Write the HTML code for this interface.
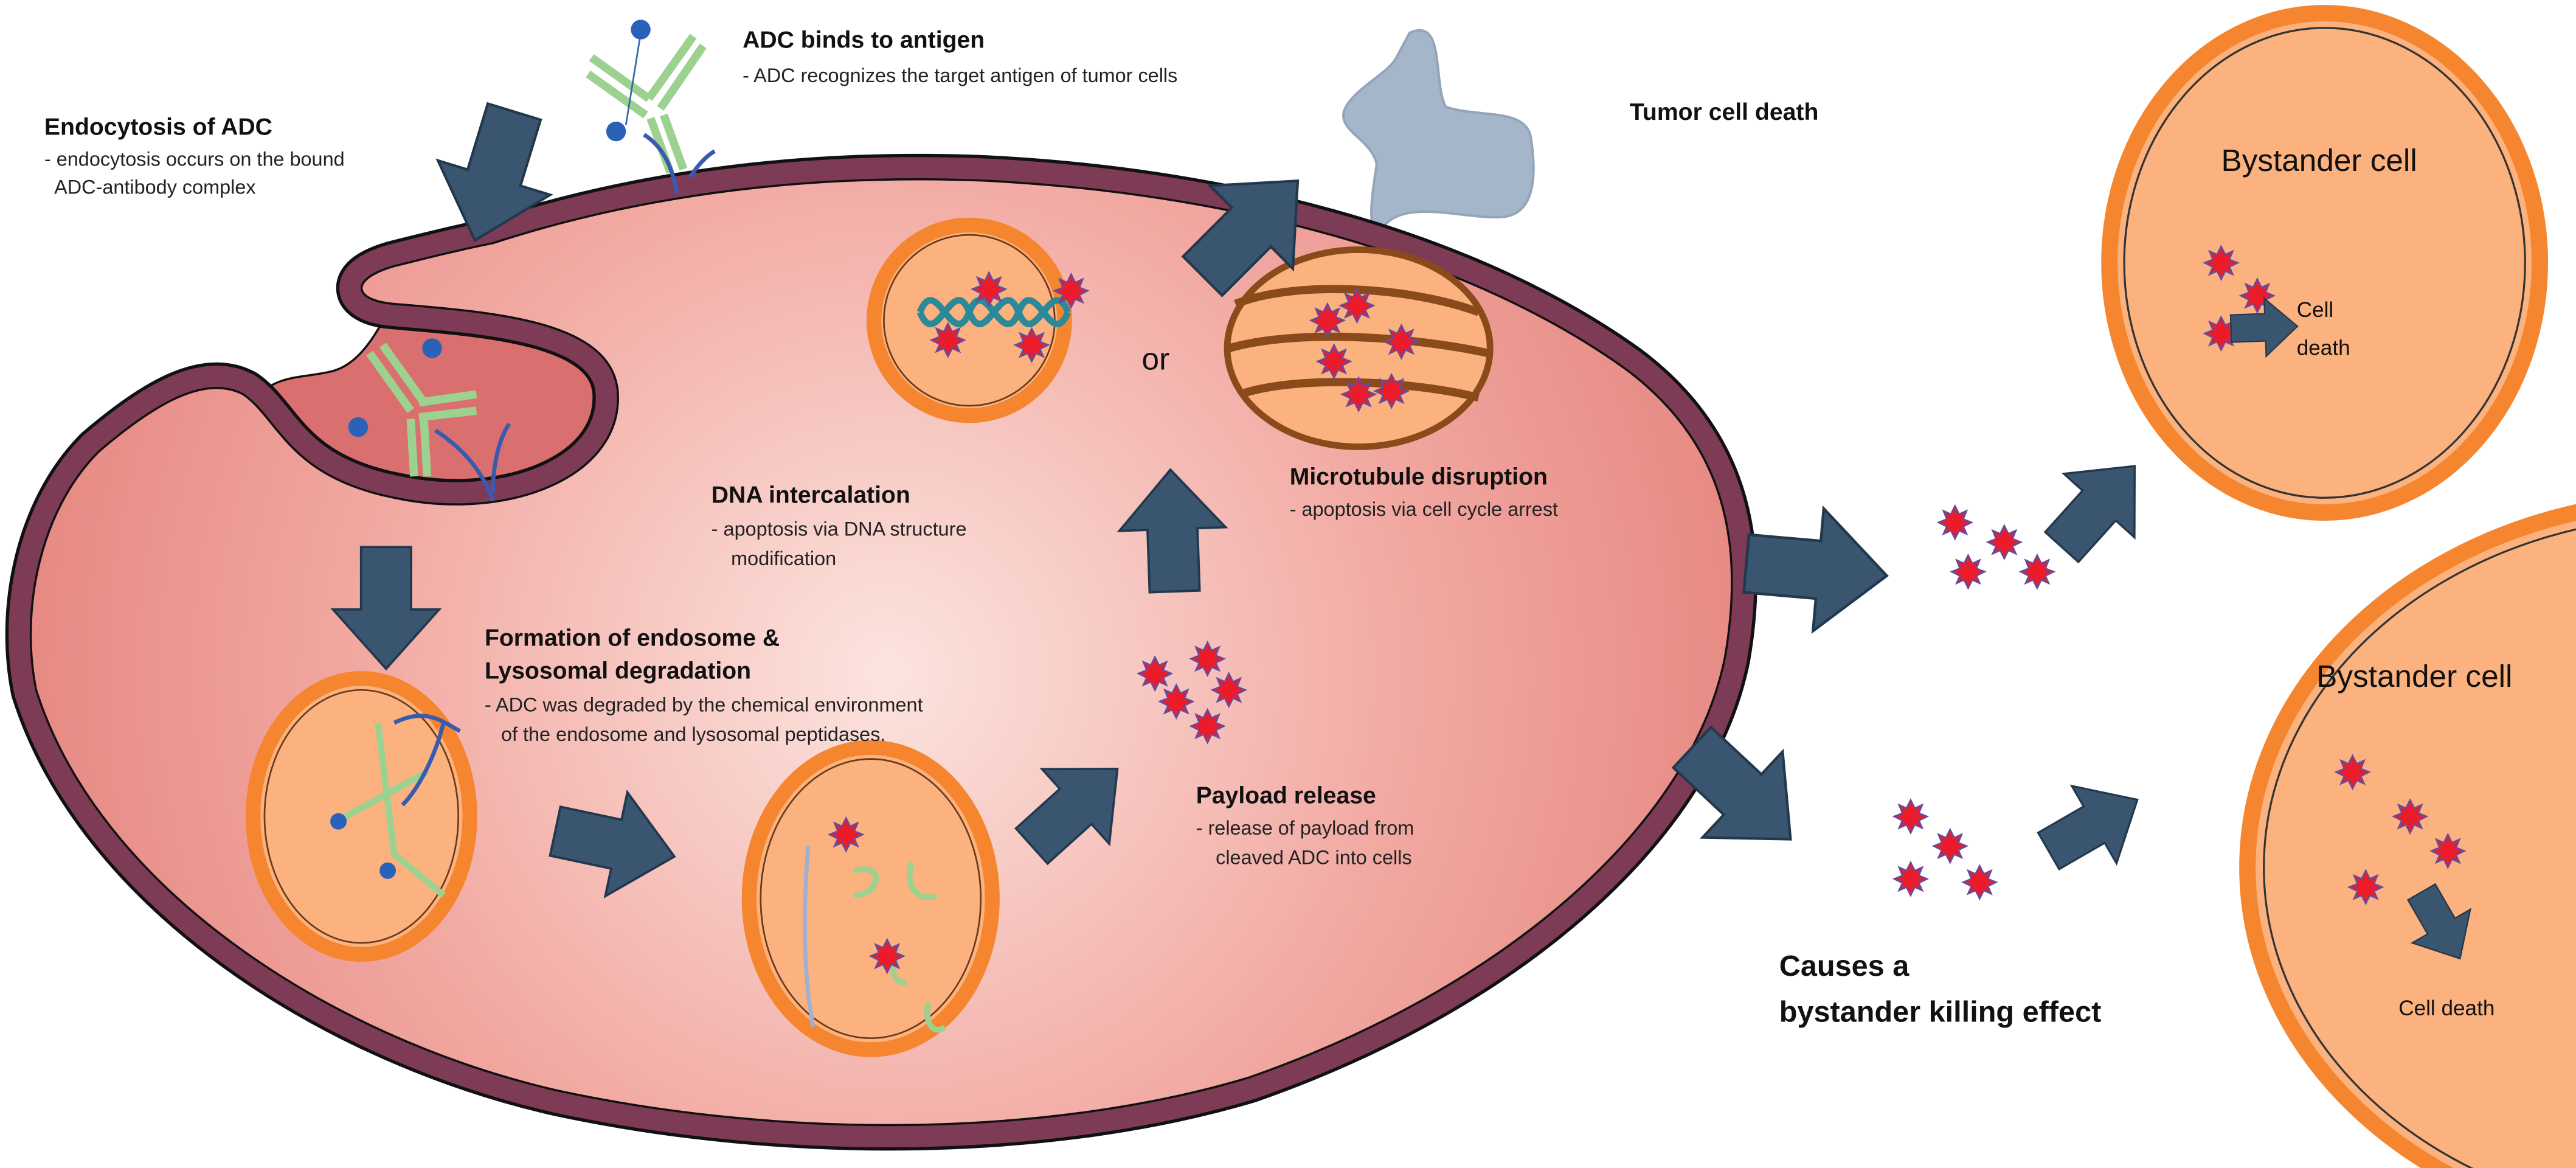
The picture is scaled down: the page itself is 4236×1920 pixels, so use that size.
<!DOCTYPE html>
<html><head><meta charset="utf-8"><style>
html,body{margin:0;padding:0;background:#fff;overflow:hidden;}
svg{display:block;}
text{font-family:"Liberation Sans Narrow","Liberation Sans",sans-serif;fill:#111;}
.b{font-weight:bold;font-size:14.5px;}
.s{font-size:12px;fill:#222;}
</style></head><body>
<svg width="4236" height="1920" viewBox="0 0 1568 711" preserveAspectRatio="none" xmlns="http://www.w3.org/2000/svg">
<defs>
<radialGradient id="cg" cx="540" cy="410" r="520" gradientUnits="userSpaceOnUse">
<stop offset="0" stop-color="#fce4df"/><stop offset="0.6" stop-color="#f2aaa3"/><stop offset="1" stop-color="#e78a84"/>
</radialGradient>
<path id="cell" d="M300,148 C380,122 480,105 600,110 C760,118 900,160 990,225 C1050,270 1062,330 1050,400 C1030,500 920,600 760,656 C640,692 480,694 340,664 C200,632 60,540 22,420 C12,370 25,310 60,275 C95,245 125,228 148,240 C170,255 175,290 240,303 C310,318 380,290 376,238 C372,195 300,190 240,185 C215,183 212,170 240,162 C260,157 280,152 300,148 Z"/>
<g id="arr"><polygon points="0,-16 40,-16 40,-34 78,0 40,34 40,16 0,16" fill="#3a5570" stroke="#22384c" stroke-width="1.5"/></g>
<g id="st"><polygon points="0,-10 2.5,-5 7,-7 5,-2 10,0 5,2.5 7,7 2.5,5 0,10 -2.5,5 -7,7 -5,2.5 -10,0 -5,-2 -7,-7 -2.5,-5" fill="#ec1b2a" stroke="#6a4a9a" stroke-width="1"/></g>
</defs>

<!-- tumor cell death blob -->
<path d="M858,20 C880,10 872,50 880,65 C900,72 930,65 932,85 C935,105 935,130 915,132 C895,134 860,122 845,135 C830,150 835,120 838,100 C835,85 815,80 818,68 C822,55 845,45 850,35 Z" fill="#a6b6ca" stroke="#94a5ba" stroke-width="1.5"/>

<!-- pocket interior -->
<path d="M158,240 C172,270 185,292 240,303 C310,318 380,290 376,238 C372,195 300,190 236,190 C228,205 218,222 202,226 C186,230 170,228 158,240 Z" fill="#d9706f"/>
<path d="M236,190 C228,205 218,222 202,226 C186,230 170,228 158,240" fill="none" stroke="#111" stroke-width="1.3"/>

<!-- cell membrane + fill -->
<use href="#cell" fill="none" stroke="#111" stroke-width="31" stroke-linejoin="round"/>
<use href="#cell" fill="none" stroke="#7d3b55" stroke-width="27" stroke-linejoin="round"/>
<use href="#cell" fill="url(#cg)" stroke="#111" stroke-width="1.3"/>

<!-- antibody top -->
<g stroke="#9cd18f" stroke-width="5" fill="none">
<line x1="360" y1="35" x2="395" y2="60"/><line x1="358" y1="45" x2="393" y2="70"/>
<line x1="395" y1="60" x2="422" y2="22"/><line x1="402" y1="66" x2="428" y2="28"/>
<line x1="396" y1="72" x2="408" y2="105"/><line x1="404" y1="70" x2="416" y2="103"/>
</g>
<line x1="390" y1="20" x2="381" y2="76" stroke="#3366aa" stroke-width="1"/>
<circle cx="390" cy="18" r="6" fill="#2a62b8"/><circle cx="375" cy="80" r="6" fill="#2a62b8"/>
<path d="M392,82 C405,90 410,105 412,118 M420,108 C425,100 430,95 435,92" stroke="#3a5ab0" stroke-width="2.5" fill="none"/>
<!-- antibody in pocket -->
<g stroke="#9cd18f" stroke-width="5" fill="none">
<line x1="225" y1="215" x2="250" y2="250"/><line x1="233" y1="210" x2="258" y2="245"/>
<line x1="255" y1="245" x2="290" y2="240"/><line x1="255" y1="254" x2="290" y2="250"/>
<line x1="250" y1="255" x2="252" y2="290"/><line x1="258" y1="255" x2="260" y2="290"/>
</g>
<circle cx="263" cy="212" r="6" fill="#2a62b8"/><circle cx="218" cy="260" r="6" fill="#2a62b8"/>
<path d="M265,262 C285,275 295,290 300,305 M300,300 C300,280 305,265 310,258" stroke="#3a5ab0" stroke-width="2.5" fill="none"/>

<!-- nucleus -->
<circle cx="590" cy="195" r="58" fill="#fbb27e" stroke="#f5862f" stroke-width="9"/>
<circle cx="590" cy="195" r="52" fill="none" stroke="#6a3a1a" stroke-width="1"/>
<path d="M560,190 C570,165 580,215 590,190 C600,165 610,215 620,190 C630,165 640,215 650,190" fill="none" stroke="#2a8a9a" stroke-width="4"/>
<path d="M560,190 C570,215 580,165 590,190 C600,215 610,165 620,190 C630,215 640,165 650,190" fill="none" stroke="#2a8a9a" stroke-width="4"/>
<use href="#st" x="602" y="176"/><use href="#st" x="652" y="177"/><use href="#st" x="577" y="207"/><use href="#st" x="628" y="210"/>
<text x="695" y="225" style="font-size:19px">or</text>

<!-- microtubule organelle -->
<ellipse cx="827" cy="212" rx="80" ry="60" fill="#fbb27e" stroke="#8b4a1a" stroke-width="4"/>
<g stroke="#8b4a1a" stroke-width="5" fill="none">
<path d="M752,185 C790,170 860,175 900,190"/><path d="M748,212 C790,200 860,205 906,215"/><path d="M755,240 C790,228 860,232 900,242"/>
</g>
<use href="#st" x="808" y="195"/><use href="#st" x="826" y="186"/><use href="#st" x="853" y="208"/><use href="#st" x="812" y="220"/><use href="#st" x="827" y="240"/><use href="#st" x="847" y="238"/>

<!-- endosome 1 -->
<ellipse cx="220" cy="497" rx="66" ry="84" fill="#fbb27e" stroke="#f5862f" stroke-width="9"/>
<ellipse cx="220" cy="497" rx="59" ry="77" fill="none" stroke="#6a3a1a" stroke-width="1"/>
<g stroke="#9cd18f" stroke-width="4" fill="none"><path d="M230,440 L240,520 L270,545"/><path d="M205,500 L260,470"/></g>
<path d="M240,440 C260,430 270,440 280,445 M270,440 C265,460 255,480 245,490" stroke="#3a5ab0" stroke-width="2.5" fill="none"/>
<circle cx="206" cy="500" r="5" fill="#2a62b8"/><circle cx="236" cy="530" r="5" fill="#2a62b8"/>
<!-- endosome 2 -->
<ellipse cx="530" cy="547" rx="74" ry="92" fill="#fbb27e" stroke="#f5862f" stroke-width="9"/>
<ellipse cx="530" cy="547" rx="67" ry="85" fill="none" stroke="#6a3a1a" stroke-width="1"/>
<path d="M492,515 C488,560 490,600 495,625" stroke="#a0b0d0" stroke-width="2.5" fill="none"/>
<g stroke="#9cd18f" stroke-width="3.5" fill="none"><path d="M520,530 C540,525 535,545 520,545"/><path d="M555,525 C550,540 560,550 570,545"/><path d="M548,580 C540,590 545,600 552,598"/><path d="M565,610 C562,625 570,630 575,625"/></g>
<use href="#st" x="515" y="508"/><use href="#st" x="540" y="582"/>

<!-- payload cluster -->
<use href="#st" x="703" y="410"/><use href="#st" x="735" y="401"/><use href="#st" x="716" y="427"/><use href="#st" x="748" y="420"/><use href="#st" x="735" y="442"/>

<!-- bystander 1 -->
<ellipse cx="1415" cy="160" rx="131" ry="152" fill="#fbb27e" stroke="#f5862f" stroke-width="10"/>
<ellipse cx="1415" cy="160" rx="122" ry="143" fill="none" stroke="#333" stroke-width="1.2"/>
<text x="1352" y="104" style="font-size:19px">Bystander  cell</text>
<use href="#st" x="1352" y="160"/><use href="#st" x="1374" y="180"/><use href="#st" x="1352" y="203"/>
<text x="1398" y="193" style="font-size:13px">Cell</text><text x="1398" y="216" style="font-size:13px">death</text>

<!-- bystander 2 -->
<ellipse cx="1640" cy="528" rx="272" ry="224" fill="#fbb27e" stroke="#f5862f" stroke-width="10"/>
<ellipse cx="1640" cy="528" rx="262" ry="214" fill="none" stroke="#333" stroke-width="1.2"/>
<text x="1410" y="418" style="font-size:19px">Bystander cell</text>
<use href="#st" x="1432" y="470"/><use href="#st" x="1467" y="497"/><use href="#st" x="1490" y="518"/><use href="#st" x="1440" y="540"/>
<text x="1460" y="618" style="font-size:13px">Cell  death</text>

<!-- outside stars -->
<use href="#st" x="1190" y="318"/><use href="#st" x="1220" y="330"/><use href="#st" x="1198" y="348"/><use href="#st" x="1240" y="348"/>
<use href="#st" x="1163" y="497"/><use href="#st" x="1187" y="515"/><use href="#st" x="1163" y="535"/><use href="#st" x="1205" y="537"/>

<!-- arrows -->
<use href="#arr" transform="translate(313,68) rotate(107) scale(1.05)"/>
<use href="#arr" transform="translate(732,168) rotate(-45) scale(1.05)"/>
<use href="#arr" transform="translate(235,333) rotate(90) scale(0.95)"/>
<use href="#arr" transform="translate(338,506) rotate(12) scale(0.95)"/>
<use href="#arr" transform="translate(628,515) rotate(-42) scale(0.9)"/>
<use href="#arr" transform="translate(715,360) rotate(-92) scale(0.95)"/>
<use href="#arr" transform="translate(1063,343) rotate(5) scale(1.1)"/>
<use href="#arr" transform="translate(1030,455) rotate(43) scale(1.05)"/>
<use href="#arr" transform="translate(1255,333) rotate(-48) scale(0.85)"/>
<use href="#arr" transform="translate(1247,518) rotate(-30) scale(0.8)"/>
<use href="#arr" transform="translate(1358,200) rotate(-2) scale(0.52)"/>
<use href="#arr" transform="translate(1474,543) rotate(60) scale(0.6)"/>

<!-- text -->
<text x="27" y="82" class="b">Endocytosis of ADC</text>
<text x="27" y="101" class="s">- endocytosis occurs on the bound</text>
<text x="33" y="118" class="s">ADC-antibody complex</text>
<text x="452" y="29" class="b">ADC binds to antigen</text>
<text x="452" y="50" class="s">-  ADC recognizes the target antigen of tumor cells</text>
<text x="992" y="73" class="b">Tumor cell death</text>
<text x="433" y="306" class="b">DNA intercalation</text>
<text x="433" y="326" class="s">-  apoptosis via DNA structure</text>
<text x="445" y="344" class="s">modification</text>
<text x="785" y="295" class="b">Microtubule disruption</text>
<text x="785" y="314" class="s">-  apoptosis via cell cycle arrest</text>
<text x="295" y="393" class="b">Formation of endosome &amp;</text>
<text x="295" y="413" class="b">Lysosomal degradation</text>
<text x="295" y="433" class="s">-  ADC was degraded by the chemical environment</text>
<text x="305" y="451" class="s">of the endosome and lysosomal peptidases.</text>
<text x="728" y="489" class="b">Payload release</text>
<text x="728" y="508" class="s">-  release of payload from</text>
<text x="740" y="526" class="s">cleaved ADC into cells</text>
<text x="1083" y="594" class="b" style="font-size:18px">Causes a</text>
<text x="1083" y="622" class="b" style="font-size:18px">bystander killing effect</text>
</svg>
</body></html>
